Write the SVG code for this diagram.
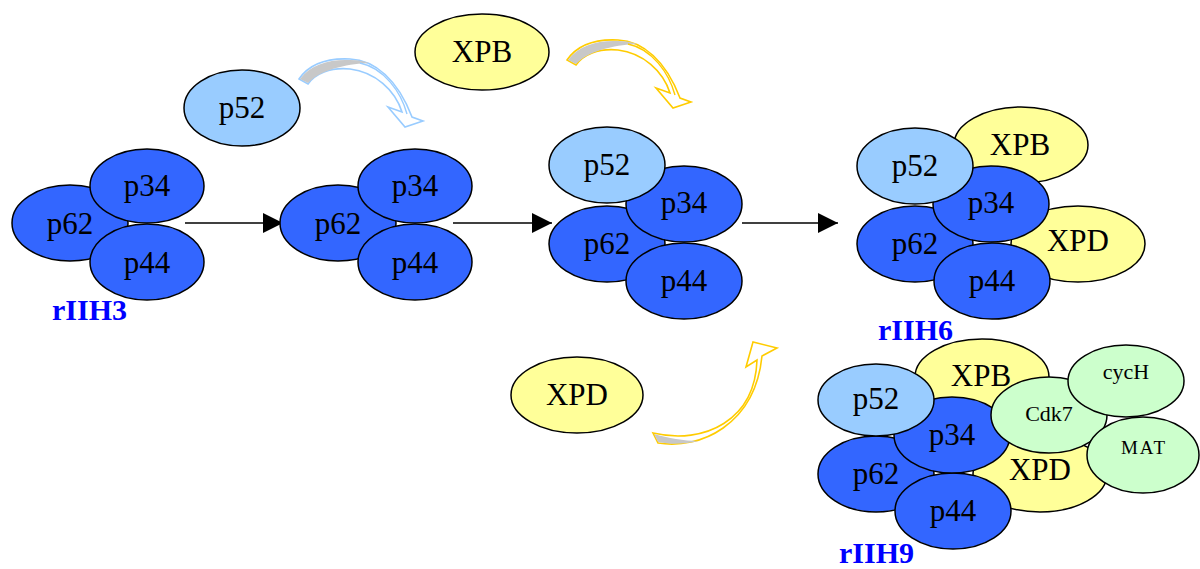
<svg xmlns="http://www.w3.org/2000/svg" width="1200" height="569" viewBox="0 0 1200 569">
<style>
.n{stroke:#000;stroke-width:1.5}
.dk{fill:#3366FF}
.lb{fill:#99CCFF}
.ye{fill:#FFFF99}
.gr{fill:#CCFFCC}
.t{font-family:"Liberation Serif","Times New Roman",serif;font-size:31px;fill:#000;text-anchor:middle}
.ts{font-family:"Liberation Serif","Times New Roman",serif;font-size:22px;fill:#000;text-anchor:middle}
.tm{font-family:"Liberation Serif","Times New Roman",serif;font-size:19px;letter-spacing:2px;fill:#000;text-anchor:middle}
.lab{font-family:"Liberation Serif","Times New Roman",serif;font-size:30px;font-weight:bold;fill:#0000FF}
.band{fill:#fff;stroke-width:1.6;stroke-linejoin:miter}
.shade{fill:#C8C8C8;stroke:none}
</style>
<defs>
<marker id="ah" markerWidth="20" markerHeight="20" viewBox="0 0 20 20" refX="20" refY="10" orient="auto" markerUnits="userSpaceOnUse">
<path d="M0,0 L20,10 L0,20 Z" fill="#000"/>
</marker>
<g id="curveArrow">
<path class="band" d="M299,79 C310,63 330,58 350,59 C375,60 398,80 412,117 L423,121 L405,127 L388,107 L402,112 C395,90 375,72 350,69 C330,67 315,74 308,84 Z"/>
<path class="shade" d="M300,79 C311,64 330,59 350,60 C358,60 364,61 369,63 C352,64 324,67 308,83 Z"/>
<path fill="none" stroke-width="1.4" d="M360,63 C384,68 401,92 407,114"/>
</g>
</defs>

<g id="connectors" stroke="#000" stroke-width="1.5" fill="none">
<line x1="185" y1="223" x2="283" y2="223" marker-end="url(#ah)"/>
<line x1="453" y1="223" x2="552" y2="223" marker-end="url(#ah)"/>
<line x1="742" y1="223" x2="838" y2="223" marker-end="url(#ah)"/>
<use href="#curveArrow" stroke="#99CCFF"/>
<use href="#curveArrow" stroke="#FFCC00" transform="translate(268,-19)"/>
<g stroke="#FFCC00">
<path class="band" d="M658,443 C700,450 755,425 762,356 L777,348 L753,342 L746,367 L757,360 C755,420 705,445 653,433 Z"/>
<path class="shade" d="M654,434 L658,442 C672,445 686,444 698,441 C684,441 668,438 654,434 Z"/>
</g>
</g>

<g id="free-p52"><ellipse class="n lb" cx="242" cy="108" rx="58" ry="38"/><text class="t" x="242" y="118">p52</text></g>
<g id="free-XPB"><ellipse class="n ye" cx="482" cy="52" rx="67" ry="38"/><text class="t" x="482" y="62">XPB</text></g>
<g id="free-XPD"><ellipse class="n ye" cx="577" cy="395" rx="66" ry="38"/><text class="t" x="577" y="405">XPD</text></g>

<g id="rIIH3">
<ellipse class="n dk" cx="70" cy="223" rx="58" ry="38"/><text class="t" x="70" y="234">p62</text>
<ellipse class="n dk" cx="147" cy="186" rx="57" ry="37"/><text class="t" x="147" y="196">p34</text>
<ellipse class="n dk" cx="147" cy="262" rx="57" ry="38"/><text class="t" x="147" y="273">p44</text>
<text class="lab" x="52" y="320">rIIH3</text>
</g>

<g id="core2">
<ellipse class="n dk" cx="338" cy="223" rx="58" ry="38"/><text class="t" x="338" y="234">p62</text>
<ellipse class="n dk" cx="415" cy="186" rx="57" ry="37"/><text class="t" x="415" y="196">p34</text>
<ellipse class="n dk" cx="415" cy="262" rx="57" ry="38"/><text class="t" x="415" y="273">p44</text>
</g>

<g id="core3">
<ellipse class="n dk" cx="607" cy="244" rx="58" ry="38"/><text class="t" x="607" y="254">p62</text>
<ellipse class="n dk" cx="684" cy="281" rx="58" ry="38"/><text class="t" x="684" y="291">p44</text>
<ellipse class="n dk" cx="684" cy="204" rx="58" ry="38"/><text class="t" x="684" y="213">p34</text>
<ellipse class="n lb" cx="607" cy="165" rx="58" ry="38"/><text class="t" x="607" y="175">p52</text>
</g>

<g id="rIIH6">
<ellipse class="n ye" cx="1021" cy="145" rx="67" ry="38"/><text class="t" x="1020" y="155">XPB</text>
<ellipse class="n ye" cx="1078" cy="244" rx="67" ry="38"/><text class="t" x="1078" y="251">XPD</text>
<ellipse class="n dk" cx="915" cy="244" rx="58" ry="38"/><text class="t" x="915" y="254">p62</text>
<ellipse class="n dk" cx="992" cy="281" rx="58" ry="38"/><text class="t" x="992" y="291">p44</text>
<ellipse class="n dk" cx="991" cy="204" rx="58" ry="38"/><text class="t" x="991" y="213">p34</text>
<ellipse class="n lb" cx="915" cy="166" rx="58" ry="38"/><text class="t" x="915" y="176">p52</text>
<text class="lab" x="878" y="340">rIIH6</text>
</g>

<g id="rIIH9">
<ellipse class="n ye" cx="982" cy="377" rx="67" ry="38"/><text class="t" x="981" y="386">XPB</text>
<ellipse class="n ye" cx="1040" cy="474" rx="67" ry="38"/><text class="t" x="1040" y="480">XPD</text>
<ellipse class="n dk" cx="876" cy="474" rx="58" ry="38"/><text class="t" x="876" y="484">p62</text>
<ellipse class="n dk" cx="953" cy="511" rx="58" ry="38"/><text class="t" x="953" y="521">p44</text>
<ellipse class="n dk" cx="952" cy="435" rx="58" ry="38"/><text class="t" x="952" y="445">p34</text>
<ellipse class="n lb" cx="876" cy="400" rx="58" ry="36"/><text class="t" x="876" y="409">p52</text>
<g id="Cdk7"><ellipse class="n gr" cx="1049" cy="415" rx="58" ry="38"/><text class="ts" x="1049" y="421">Cdk7</text></g>
<g id="cycH"><ellipse class="n gr" cx="1126" cy="381" rx="58" ry="36"/><text class="ts" x="1126" y="379">cycH</text></g>
<g id="MAT"><ellipse class="n gr" cx="1143" cy="455" rx="56" ry="38"/><text class="tm" x="1144" y="454">MAT</text></g>
<text class="lab" x="839" y="563">rIIH9</text>
</g>
</svg>
